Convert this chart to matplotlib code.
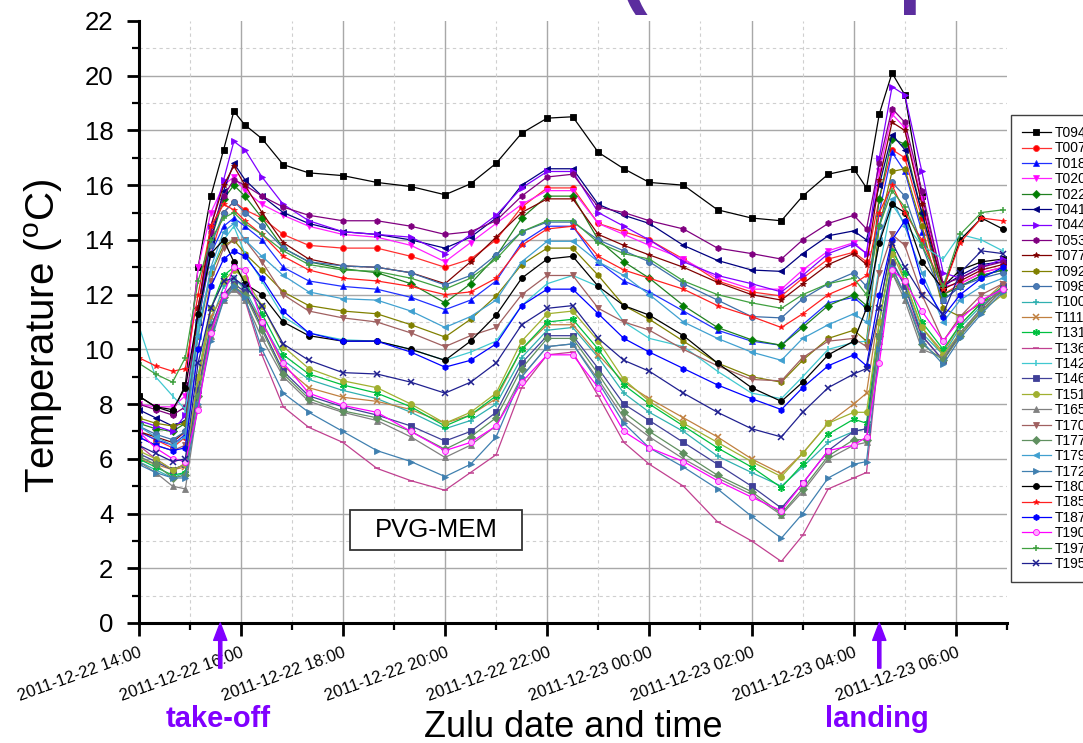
import datetime as dt
import matplotlib
matplotlib.use("Agg")
import matplotlib.pyplot as plt
import matplotlib.dates as mdates
from matplotlib.patches import Rectangle

plt.rcParams['font.family'] = ['Liberation Sans', 'DejaVu Sans']
plt.rcParams['mathtext.fontset'] = 'custom'
plt.rcParams['mathtext.rm'] = 'Liberation Sans'

# ---------------- data ----------------
START = dt.datetime(2011, 12, 22, 14, 0)
END_MIN = 1020
# sample times, minutes after 2011-12-22 14:00 (UTC)
minutes = [0, 20, 40, 55, 70, 85, 100, 112, 125, 145,
           170, 200, 240, 280, 320, 360, 390, 420, 450, 480,
           510, 540, 570, 600, 640, 680, 720, 755, 780, 810,
           840, 855, 870, 885, 900, 920, 945, 965, 990, 1015]

TAKEOFF_MIN = 96
LANDING_MIN = 870

T094 = [8.3, 7.9, 7.7, 8.7, 13.0, 15.6, 17.3, 18.7, 18.2, 17.7,
        16.75, 16.45, 16.35, 16.1, 15.95, 15.65, 16.05, 16.8, 17.9, 18.45,
        18.5, 17.2, 16.6, 16.1, 16.0, 15.1, 14.8, 14.7, 15.6, 16.4,
        16.6, 15.9, 18.6, 20.1, 19.3, 15.6, 12.3, 12.9, 13.2, 13.3]
T007 = [7.0, 6.7, 6.4, 6.8, 11.0, 13.5, 15.0, 15.4, 15.1, 14.8,
        14.2, 13.8, 13.7, 13.7, 13.4, 13.0, 13.3, 14.0, 15.2, 15.9,
        15.9, 14.6, 14.3, 14.0, 13.3, 12.5, 12.1, 11.95, 12.6, 13.3,
        13.55, 13.2, 15.5, 17.3, 17.0, 14.8, 12.0, 12.4, 12.8, 13.0]
T018 = [7.0, 6.7, 6.5, 6.9, 11.0, 13.5, 14.5, 14.8, 14.5, 14.0,
        13.0, 12.5, 12.3, 12.2, 11.9, 11.45, 11.8, 12.5, 13.9, 14.5,
        14.5, 13.2, 12.5, 12.1, 11.4, 10.7, 10.3, 10.15, 10.9, 11.7,
        11.9, 11.5, 15.0, 17.2, 16.5, 14.3, 11.8, 12.3, 12.7, 12.9]
T020 = [8.0, 7.9, 7.9, 8.3, 13.0, 15.0, 16.0, 16.3, 15.8, 15.3,
        14.9, 14.5, 14.2, 14.1, 13.8, 13.2, 13.9, 14.6, 15.3, 15.8,
        15.8, 14.6, 14.2, 13.8, 13.3, 12.6, 12.2, 12.2, 12.9, 13.6,
        13.9, 13.5, 16.5, 18.6, 18.1, 15.5, 12.3, 12.4, 12.8, 13.0]
T022 = [7.3, 7.1, 7.0, 7.3, 11.5, 14.0, 15.5, 16.0, 15.6, 14.8,
        13.7, 13.2, 12.95, 12.8, 12.4, 11.7, 12.4, 13.4, 14.8, 15.6,
        15.6, 14.0, 13.2, 12.6, 11.6, 10.8, 10.35, 10.15, 10.8, 11.6,
        12.0, 11.6, 15.5, 17.7, 17.5, 15.0, 12.0, 12.3, 12.7, 12.9]
T041 = [7.8, 7.5, 7.2, 7.4, 11.0, 14.0, 15.8, 16.8, 16.2, 15.6,
        15.0, 14.6, 14.3, 14.2, 14.0, 13.7, 14.1, 14.8, 16.0, 16.6,
        16.6, 15.3, 14.9, 14.6, 13.8, 13.25, 12.9, 12.85, 13.5, 14.15,
        14.33, 14.0, 16.0, 17.85, 17.3, 15.0, 12.3, 12.7, 13.1, 13.2]
T044 = [7.4, 7.2, 7.0, 7.6, 11.0, 14.5, 16.2, 17.6, 17.3, 16.3,
        15.3, 14.7, 14.3, 14.2, 14.1, 13.5, 14.2, 14.9, 15.9, 16.5,
        16.5, 15.0, 14.5, 14.0, 13.2, 12.7, 12.4, 12.1, 12.7, 13.5,
        13.85, 13.5, 17.0, 19.6, 19.3, 16.5, 12.8, 12.6, 13.0, 13.3]
T053 = [8.0, 7.8, 7.6, 7.9, 11.5, 14.3, 15.6, 16.2, 16.0, 15.6,
        15.2, 14.9, 14.7, 14.7, 14.5, 14.2, 14.3, 14.7, 15.6, 16.3,
        16.4, 15.2, 15.0, 14.7, 14.4, 13.7, 13.5, 13.3, 14.0, 14.6,
        14.9, 14.4, 16.8, 18.8, 18.3, 15.8, 12.4, 12.6, 13.0, 13.2]
T077 = [7.0, 6.8, 6.6, 7.0, 11.5, 14.5, 16.0, 16.7, 16.0, 15.0,
        13.9, 13.3, 13.05, 13.0, 12.8, 12.4, 13.2, 14.1, 15.0, 15.5,
        15.5, 14.2, 13.8, 13.45, 13.0, 12.45, 12.0, 11.8, 12.4, 13.1,
        13.5, 13.1, 16.2, 18.3, 18.0, 15.3, 12.2, 12.5, 12.9, 13.1]
T092 = [7.5, 7.3, 7.2, 7.3, 10.5, 12.8, 13.8, 14.0, 13.5, 12.9,
        12.1, 11.6, 11.4, 11.3, 10.9, 10.45, 11.1, 11.95, 13.1, 13.7,
        13.7, 12.7, 11.6, 11.1, 10.3, 9.5, 9.0, 8.8, 9.6, 10.4,
        10.7, 10.3, 14.5, 16.5, 16.6, 14.5, 11.5, 11.2, 11.7, 12.1]
T098 = [7.2, 6.9, 6.7, 7.0, 11.0, 13.8, 15.0, 15.4, 15.0, 14.5,
        13.7, 13.2, 13.05, 13.0, 12.8, 12.35, 12.7, 13.45, 14.3, 14.65,
        14.65, 14.0, 13.6, 13.2, 12.4, 11.8, 11.2, 11.15, 11.85, 12.4,
        12.8, 12.3, 14.5, 16.1, 15.6, 13.8, 11.8, 12.3, 12.6, 12.8]
T100 = [5.9, 5.6, 5.3, 5.5, 8.5, 11.0, 12.3, 12.6, 12.2, 11.0,
        9.6, 8.9, 8.5, 8.2, 7.7, 7.1, 7.4, 8.0, 9.7, 10.7,
        10.8, 9.7, 8.4, 7.7, 7.0, 6.1, 5.5, 5.0, 5.7, 6.6,
        7.0, 7.1, 10.5, 13.2, 12.4, 10.6, 9.8, 10.8, 11.6, 12.2]
T111 = [6.0, 5.8, 5.6, 5.7, 8.8, 11.2, 12.0, 12.3, 12.0, 11.0,
        9.4, 8.6, 8.25, 8.1, 7.8, 7.3, 7.6, 8.2, 10.0, 10.9,
        10.9, 9.8, 8.8, 8.2, 7.5, 6.8, 6.0, 5.45, 6.2, 7.3,
        8.0, 8.4, 11.5, 13.8, 12.5, 10.8, 9.9, 10.9, 11.7, 12.4]
T131 = [6.0, 5.7, 5.4, 5.5, 9.0, 11.5, 12.7, 13.0, 12.5, 11.3,
        9.8, 9.1, 8.7, 8.4, 7.9, 7.2, 7.6, 8.3, 10.0, 11.0,
        11.1, 10.0, 8.7, 8.0, 7.2, 6.4, 5.7, 4.95, 5.8, 6.9,
        7.45, 7.3, 11.0, 13.6, 12.8, 11.0, 10.0, 10.9, 11.7, 12.3]
T136 = [6.5, 6.0, 5.6, 5.8, 8.5, 10.8, 12.0, 12.3, 11.8, 9.8,
        7.9, 7.15, 6.6, 5.65, 5.2, 4.85, 5.5, 6.15, 8.6, 9.8,
        9.9, 8.3, 6.6, 5.8, 5.0, 3.7, 3.0, 2.25, 3.2, 4.9,
        5.3, 5.5, 10.0, 13.0, 12.0, 10.5, 9.6, 10.5, 11.4, 12.2]
T142 = [10.9, 9.0, 8.3, 7.8, 10.8, 12.8, 14.0, 14.5, 13.5, 12.5,
        11.2, 10.6, 10.35, 10.3, 10.0, 9.6, 9.9, 10.3, 11.6, 12.4,
        12.7, 12.3, 11.0, 10.4, 10.1, 9.2, 8.4, 8.2, 9.0, 10.0,
        10.25, 10.3, 13.0, 15.3, 14.6, 13.8, 13.3, 14.2, 14.0, 13.6]
T146 = [6.2, 5.9, 5.6, 5.8, 8.5, 10.8, 12.0, 12.4, 12.1, 10.8,
        9.2, 8.3, 7.9, 7.6, 7.2, 6.65, 7.0, 7.7, 9.5, 10.5,
        10.5, 9.3, 8.0, 7.4, 6.6, 5.8, 5.0, 4.2, 5.1, 6.3,
        7.0, 7.1, 10.5, 13.2, 12.3, 10.5, 9.6, 10.6, 11.5, 12.3]
T151 = [6.3, 6.0, 5.6, 5.8, 9.0, 11.5, 12.5, 12.9, 12.6, 11.6,
        10.1, 9.3, 8.85, 8.6, 8.0, 7.3, 7.7, 8.4, 10.3, 11.3,
        11.4, 10.3, 8.9, 8.1, 7.3, 6.6, 5.9, 5.35, 6.2, 7.3,
        7.7, 7.7, 11.0, 13.5, 12.5, 10.8, 9.8, 10.6, 11.4, 12.0]
T165 = [5.9, 5.5, 5.0, 4.9, 8.0, 10.5, 11.8, 12.2, 11.8, 10.4,
        9.0, 8.1, 7.7, 7.4, 6.8, 6.05, 6.5, 7.2, 9.0, 10.1,
        10.2, 8.9, 7.5, 6.8, 6.0, 5.3, 4.7, 3.95, 4.8, 6.0,
        6.5, 6.6, 10.3, 12.8, 11.8, 10.0, 9.7, 10.6, 11.5, 12.3]
T170 = [6.8, 6.5, 6.3, 6.5, 10.0, 12.5, 13.7, 14.0, 14.0, 13.2,
        12.0, 11.4, 11.15, 11.0, 10.6, 10.1, 10.5, 10.8, 12.0, 12.7,
        12.7, 11.5, 11.0, 10.7, 10.0, 9.4, 8.9, 8.85, 9.7, 10.3,
        10.4, 10.1, 12.8, 14.2, 13.8, 12.0, 10.3, 11.2, 12.0, 12.4]
T177 = [6.1, 5.8, 5.3, 5.4, 8.3, 10.7, 11.9, 12.3, 12.0, 10.7,
        9.1, 8.2, 7.75, 7.5, 7.0, 6.35, 6.8, 7.5, 9.3, 10.4,
        10.4, 9.1, 7.7, 7.0, 6.2, 5.4, 4.8, 4.0, 4.9, 6.1,
        6.7, 6.7, 10.5, 12.8, 12.0, 10.2, 9.6, 10.5, 11.4, 12.2]
T179 = [7.2, 6.8, 6.5, 6.8, 10.5, 13.0, 14.3, 14.6, 14.0, 13.4,
        12.7, 12.1, 11.85, 11.8, 11.4, 10.8, 11.2, 11.8, 13.2, 13.95,
        13.95, 13.2, 12.7, 12.0, 11.0, 10.4, 9.9, 9.6, 10.4, 10.9,
        11.3, 11.0, 14.0, 15.5, 14.5, 12.8, 11.0, 11.8, 12.3, 12.6]
T172 = [5.8, 5.5, 5.3, 5.3, 8.0, 10.3, 11.8, 12.3, 11.9, 10.0,
        8.4, 7.7, 7.0, 6.3, 5.9, 5.35, 5.8, 6.8, 9.0, 10.1,
        10.2, 8.8, 7.3, 6.4, 5.7, 4.9, 3.9, 3.1, 4.0, 5.3,
        5.8, 5.9, 10.0, 13.0, 12.0, 10.3, 9.45, 10.4, 11.3, 12.1]
T180 = [8.3, 7.9, 7.8, 8.6, 11.3, 13.5, 14.0, 13.2, 12.4, 12.0,
        11.0, 10.5, 10.3, 10.3, 10.0, 9.6, 10.3, 11.25, 12.6, 13.3,
        13.4, 12.3, 11.6, 11.25, 10.5, 9.5, 8.6, 8.1, 8.8, 9.8,
        10.3, 11.5, 13.9, 15.3, 15.0, 13.2, 12.2, 14.0, 14.8, 14.4]
T185 = [9.7, 9.4, 9.2, 9.3, 12.0, 14.5, 15.3, 15.1, 14.7, 14.2,
        13.4, 12.9, 12.6, 12.5, 12.3, 12.0, 12.1, 12.6, 13.8, 14.4,
        14.5, 13.4, 12.9, 12.6, 12.2, 11.6, 11.2, 10.8, 11.3, 12.0,
        12.4, 12.7, 15.0, 16.0, 15.0, 14.0, 12.2, 13.9, 14.8, 14.7]
T187 = [6.8, 6.5, 6.3, 6.4, 10.0, 12.3, 13.3, 13.6, 13.4, 12.6,
        11.4, 10.6, 10.3, 10.3, 9.9, 9.35, 9.6, 10.2, 11.6, 12.2,
        12.2, 11.3, 10.4, 9.9, 9.3, 8.7, 8.2, 7.8, 8.6, 9.4,
        9.8, 9.4, 12.0, 14.0, 14.7, 12.5, 11.2, 12.0, 12.6, 13.0]
T190 = [7.0, 6.4, 6.0, 5.9, 7.8, 10.6, 12.0, 13.0, 12.9, 11.0,
        9.5, 8.4, 7.95, 7.7, 7.0, 6.3, 6.6, 7.2, 8.8, 9.8,
        9.8, 8.6, 7.0, 6.4, 5.9, 5.2, 4.6, 4.1, 5.1, 6.3,
        6.5, 6.8, 9.5, 12.9, 12.5, 11.4, 10.3, 11.1, 11.8, 12.2]
T197 = [9.5, 9.1, 8.8, 9.7, 12.5, 14.0, 14.8, 15.0, 14.6, 14.2,
        13.6, 13.1, 12.9, 12.85, 12.6, 12.2, 12.6, 13.3, 14.3, 14.7,
        14.7, 13.9, 13.5, 13.3, 12.5, 12.0, 11.7, 11.5, 12.0, 12.4,
        12.6, 12.0, 14.5, 15.8, 15.2, 13.8, 12.3, 14.2, 15.0, 15.1]
T195 = [6.5, 6.2, 5.9, 6.0, 9.5, 11.5, 12.5, 12.6, 12.3, 11.6,
        10.2, 9.6, 9.15, 9.1, 8.8, 8.4, 8.8, 9.5, 10.9, 11.5,
        11.6, 10.4, 9.6, 9.2, 8.4, 7.7, 7.1, 6.8, 7.7, 8.6,
        9.1, 9.3, 11.5, 13.9, 13.0, 12.0, 11.3, 12.8, 13.6, 13.5]

ASTERISK = (6, 2, 0)
# (label, values, line colour, marker, marker face colour)
series = [
    ('T094', T094, '#000000', 's', '#000000'),
    ('T007', T007, '#FF3030', 'o', '#FF0000'),
    ('T018', T018, '#2030FF', '^', '#0000FF'),
    ('T020', T020, '#FF20FF', 'v', '#FF00FF'),
    ('T022', T022, '#208020', 'D', '#008000'),
    ('T041', T041, '#000080', '<', '#000080'),
    ('T044', T044, '#8000FF', '>', '#8000FF'),
    ('T053', T053, '#800080', 'h', '#800080'),
    ('T077', T077, '#800000', '*', '#800000'),
    ('T092', T092, '#808000', 'h', '#808000'),
    ('T098', T098, '#3C6EA8', 'o', '#4A7AB5'),
    ('T100', T100, '#30B0B0', '+', '#30B0B0'),
    ('T111', T111, '#C08040', 'x', '#C08040'),
    ('T131', T131, '#00C040', ASTERISK, '#00C040'),
    ('T136', T136, '#C04090', '_', '#C04090'),
    ('T142', T142, '#40C8D0', '|', '#40C8D0'),
    ('T146', T146, '#404098', 's', '#404098'),
    ('T151', T151, '#A0B030', 'o', '#A0B030'),
    ('T165', T165, '#808080', '^', '#808080'),
    ('T170', T170, '#A06060', 'v', '#A06060'),
    ('T177', T177, '#609060', 'D', '#609060'),
    ('T179', T179, '#40A0D0', '<', '#40A0D0'),
    ('T172', T172, '#4080B0', '>', '#4080B0'),
    ('T180', T180, '#000000', 'o', '#000000'),
    ('T185', T185, '#FF2020', '*', '#FF0000'),
    ('T187', T187, '#0000FF', 'h', '#0000FF'),
    ('T190', T190, '#FF00FF', 'o', '#FFA8FF'),
    ('T197', T197, '#40A040', '+', '#40A040'),
    ('T195', T195, '#202090', 'x', '#202090'),
]

times = [START + dt.timedelta(minutes=m) for m in minutes]

# ---------------- figure ----------------
W_PX, H_PX = 1083, 743
fig = plt.figure(figsize=(W_PX / 100, H_PX / 100), dpi=100)
ax_l, ax_r, ax_t, ax_b = 138.5, 1007, 21, 623
ax = fig.add_axes([ax_l / W_PX, 1 - ax_b / H_PX,
                   (ax_r - ax_l) / W_PX, (ax_b - ax_t) / H_PX])

ax.set_xlim(START, START + dt.timedelta(minutes=END_MIN))
ax.set_ylim(0, 22)

# grid (drawn at tick positions)
for v in range(1, 22):
    if v % 2 == 0:
        ax.axhline(v, color='#a8a8a8', lw=1.0, zorder=0)
    else:
        ax.axhline(v, color='#cfcfcf', lw=0.8, ls=(0, (3, 3)), zorder=0)
for h in range(1, 17):
    tt = START + dt.timedelta(hours=h)
    if h % 2 == 0:
        ax.axvline(tt, color='#a8a8a8', lw=1.0, zorder=0)
    else:
        ax.axvline(tt, color='#cfcfcf', lw=0.8, ls=(0, (3, 3)), zorder=0)

handles = []
for label, vals, lc, mk, mfc in series:
    thin = mk in ('+', 'x', '|', '_') or mk == ASTERISK
    ln, = ax.plot(times, vals, color=lc, lw=0.9, marker=mk,
                  markersize=5.0 if thin else 4.3,
                  markerfacecolor=mfc,
                  markeredgecolor=lc,
                  markeredgewidth=1.1 if thin else 0.6,
                  label=label, zorder=2)
    handles.append(ln)

# axes styling
for s in ('top', 'right'):
    ax.spines[s].set_visible(False)
for s in ('left', 'bottom'):
    ax.spines[s].set_linewidth(2.2)
    ax.spines[s].set_color('black')

ax.xaxis.set_major_locator(mdates.HourLocator(byhour=range(0, 24, 2)))
ax.xaxis.set_minor_locator(mdates.HourLocator())
ax.xaxis.set_major_formatter(mdates.DateFormatter('%Y-%m-%d %H:%M'))
ax.set_yticks(range(0, 23, 2))
ax.set_yticks(range(0, 23, 1), minor=True)

ax.tick_params(axis='both', which='major', direction='out', length=9,
               width=2.0, color='black')
ax.tick_params(axis='both', which='minor', direction='out', length=5,
               width=1.6, color='black')
ax.tick_params(axis='y', which='major', labelsize=18.5, pad=9)
ax.tick_params(axis='x', which='major', labelsize=12, pad=7)
for lab in ax.get_xticklabels():
    lab.set_rotation(20)
    lab.set_ha('right')
    lab.set_va('top')
    lab.set_rotation_mode('anchor')

# axis titles
fig.text(((ax_l + ax_r) / 2) / W_PX, 1 - 737 / H_PX, 'Zulu date and time',
         ha='center', va='baseline', fontsize=26)
fig.text(44 / W_PX, 1 - 336 / H_PX,
         r'Temperature ($^\mathrm{o}$C)', rotation=90,
         ha='center', va='center', fontsize=29)

# flight label box
ax.add_patch(Rectangle(((350 - ax_l) / (ax_r - ax_l), (ax_b - 550) / (ax_b - ax_t)),
                       172 / (ax_r - ax_l), 40 / (ax_b - ax_t),
                       transform=ax.transAxes, facecolor='white',
                       edgecolor='#333333', lw=1.3, zorder=5))
ax.text((436 - ax_l) / (ax_r - ax_l), (ax_b - 530) / (ax_b - ax_t), 'PVG-MEM',
        transform=ax.transAxes, ha='center', va='center', fontsize=18.5,
        zorder=6)

# take-off / landing markers
ARROW_C = '#8000FF'
for m, txt in ((TAKEOFF_MIN, 'take-off'), (LANDING_MIN, 'landing')):
    tt = START + dt.timedelta(minutes=m)
    ax.annotate('', xy=(tt, 0), xytext=(tt, -1.65),
                xycoords='data', textcoords='data', annotation_clip=False,
                arrowprops=dict(facecolor=ARROW_C, edgecolor=ARROW_C,
                                width=2.3, headwidth=9.5, headlength=12.5,
                                shrink=0))
    xf = ax.transData.transform((mdates.date2num(tt), 0))[0] / W_PX
    fig.text(xf - 0.002, 1 - 727 / H_PX, txt, ha='center', va='baseline',
             fontsize=21, fontweight='bold', color=ARROW_C)

# cut-off slide title remnants at the very top (only descenders visible)
TITLE_C = '#5B2D9E'
fig.text(619 / W_PX, 1 + 3 / H_PX, '(', fontsize=62, fontweight='bold',
         color=TITLE_C, ha='left', va='baseline')
fig.text(897 / W_PX, 1 + 3 / H_PX, 'p', fontsize=62, fontweight='bold',
         color=TITLE_C, ha='left', va='baseline')

# legend (partly cut off by the right edge, as in the original)
fig.legend(handles, [s[0] for s in series], loc='upper left',
           bbox_to_anchor=(1010.7 / W_PX, 1 - 115 / H_PX),
           bbox_transform=fig.transFigure, fontsize=10, frameon=True,
           fancybox=False, edgecolor='#404040', framealpha=1,
           borderpad=0.8, handlelength=2.1, handletextpad=0.3,
           labelspacing=0.1, numpoints=1, borderaxespad=0)

fig.savefig('out.png', dpi=100)
